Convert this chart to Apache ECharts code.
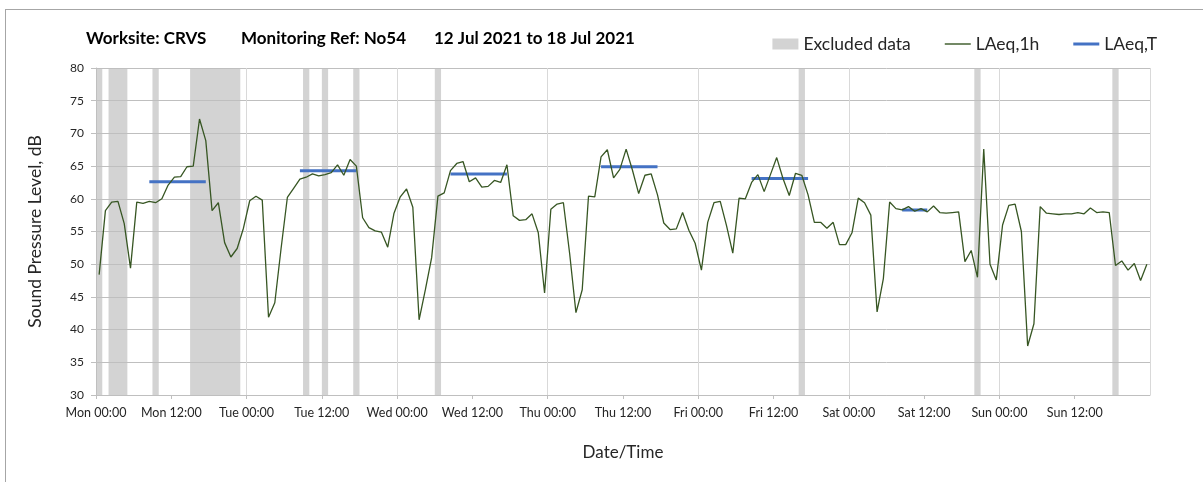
<!DOCTYPE html>
<html>
<head>
<meta charset="utf-8">
<script src="https://cdn.jsdelivr.net/npm/echarts@6/dist/echarts.min.js"></script>
<style>
  html, body { margin: 0; padding: 0; background: #fff; }
  .frame { position: absolute; left: 5px; top: 9px; width: 1400px; height: 700px; border: 1px solid #a6a6a6; }
  #chart { position: absolute; left: 0; top: 0; width: 1203px; height: 482px; }
</style>
</head>
<body>
<div class="frame"></div>
<div id="chart"></div>
<script>
// hourly LAeq,1h, Mon 00:00 -> Sun 23:00 (168 hours)
var laeq1h = [
  48.4, 58.2, 59.5, 59.6, 56.2, 49.4, 59.5, 59.3, 59.6, 59.4, 60.0, 62.1,
  63.3, 63.4, 64.9, 65.0, 72.2, 68.9, 58.2, 59.4, 53.3, 51.1, 52.4, 55.5,
  59.7, 60.4, 59.8, 41.9, 44.1, 52.4, 60.2, 61.6, 63.0, 63.3, 63.8, 63.5,
  63.7, 64.0, 65.2, 63.6, 66.0, 65.0, 57.1, 55.6, 55.1, 54.9, 52.6, 57.8,
  60.3, 61.5, 58.7, 41.5, 46.1, 51.0, 60.4, 60.9, 64.3, 65.4, 65.7, 62.6,
  63.2, 61.8, 61.9, 62.8, 62.5, 65.2, 57.4, 56.7, 56.8, 57.7, 54.8, 45.6,
  58.4, 59.2, 59.4, 51.6, 42.6, 46.1, 60.4, 60.3, 66.4, 67.5, 63.2, 64.5,
  67.6, 64.4, 60.8, 63.6, 63.8, 60.6, 56.3, 55.3, 55.4, 57.9, 55.2, 53.2,
  49.1, 56.4, 59.4, 59.6, 55.9, 51.7, 60.1, 60.0, 62.5, 63.7, 61.1, 63.7,
  66.3, 63.1, 60.5, 63.9, 63.6, 60.6, 56.4, 56.4, 55.5, 56.4, 53.0, 53.0,
  54.8, 60.1, 59.4, 57.5, 42.7, 47.8, 59.5, 58.5, 58.3, 58.8, 58.1, 58.5,
  58.0, 58.9, 57.9, 57.8, 57.9, 58.0, 50.4, 52.1, 48.0, 67.6, 50.0, 47.6,
  56.0, 59.0, 59.2, 55.0, 37.5, 40.9, 58.8, 57.8, 57.7, 57.6, 57.7, 57.7,
  57.9, 57.7, 58.6, 57.9, 58.0, 57.9, 49.8, 50.5, 49.1, 50.1, 47.5, 50.0
];

// LAeq,T periods (first hour, last hour, level)
var periodStart = [8, 32, 56, 80, 104, 128];
var periodEnd = [17, 41, 65, 89, 113, 132];
var periodLevel = [62.6, 64.3, 63.8, 64.9, 63.1, 58.3];

// hours flagged as excluded
var excludedHours = [0, 2, 3, 4, 9, 15, 16, 17, 18, 19, 20, 21, 22, 33, 36, 41, 54, 112, 140, 162];

var tickLabels = ['Mon 00:00', 'Mon 12:00', 'Tue 00:00', 'Tue 12:00', 'Wed 00:00', 'Wed 12:00',
  'Thu 00:00', 'Thu 12:00', 'Fri 00:00', 'Fri 12:00', 'Sat 00:00', 'Sat 12:00',
  'Sun 00:00', 'Sun 12:00', ''];

var yMin = 30, yMax = 80;
var font = 'Lato, "Open Sans", sans-serif';
var txt = '#262626';

var lineData = laeq1h.map(function (v, h) { return [h + 0.5, v]; });
var periodData = laeq1h.map(function (v, h) {
  for (var i = 0; i < periodStart.length; i++) {
    if (h >= periodStart[i] && h <= periodEnd[i]) return [h + 0.5, periodLevel[i]];
  }
  return [h + 0.5, null];
});

// join neighbouring excluded hours so the shading has no seams
var excludedRuns = [];
excludedHours.forEach(function (h) {
  var last = excludedRuns[excludedRuns.length - 1];
  if (last && last[1] === h) last[1] = h + 1;
  else excludedRuns.push([h, h + 1]);
});

var titleStyle = { fontSize: 17, fontWeight: 'bold', color: '#000', fontFamily: font };

var chart = echarts.init(document.getElementById('chart'));
chart.setOption({
  animation: false,
  textStyle: { fontFamily: font },
  title: [
    { text: 'Worksite: CRVS', left: 81, top: 25, textStyle: titleStyle },
    { text: 'Monitoring Ref: No54', left: 236, top: 25, textStyle: titleStyle },
    { text: '12 Jul 2021 to 18 Jul 2021', left: 429, top: 25, textStyle: titleStyle }
  ],
  legend: {
    right: 41,
    top: 30,
    itemWidth: 26,
    itemHeight: 11,
    itemGap: 34,
    textStyle: { fontSize: 17.5, color: txt, fontFamily: font },
    data: [
      { name: 'Excluded data', icon: 'rect' },
      { name: 'LAeq,1h', icon: 'path://M0,0H26V1.4H0Z' },
      { name: 'LAeq,T', icon: 'path://M0,0H26V3H0Z' }
    ]
  },
  grid: { left: 96, right: 53, top: 68, bottom: 87 },
  xAxis: [
    {
      type: 'value',
      min: 0,
      max: 168,
      interval: 12,
      name: 'Date/Time',
      nameLocation: 'middle',
      nameGap: 49,
      nameTextStyle: { fontSize: 17, color: txt },
      axisLine: { lineStyle: { color: '#bfbfbf' } },
      axisTick: { length: 4, lineStyle: { color: '#bfbfbf' } },
      axisLabel: {
        fontSize: 12.5,
        color: txt,
        margin: 11,
        showMaxLabel: false,
        formatter: function (v) { return tickLabels[Math.round(v / 12)]; }
      },
      splitLine: { show: false }
    },
    {
      type: 'value',
      min: 0,
      max: 168,
      interval: 24,
      position: 'bottom',
      axisLine: { show: false },
      axisTick: { show: false },
      axisLabel: { show: false },
      splitLine: { show: true, lineStyle: { color: '#d9d9d9', width: 1 } }
    }
  ],
  yAxis: {
    type: 'value',
    min: yMin,
    max: yMax,
    interval: 5,
    name: 'Sound Pressure Level, dB',
    nameLocation: 'middle',
    nameGap: 52,
    nameTextStyle: { fontSize: 17.5, color: txt },
    axisLine: { show: true, lineStyle: { color: '#bfbfbf' } },
    axisTick: { show: true, length: 5, lineStyle: { color: '#bfbfbf' } },
    axisLabel: { fontSize: 12, color: txt, margin: 12 },
    splitLine: { lineStyle: { color: '#bfbfbf', width: 1 } }
  },
  series: [
    {
      name: 'Excluded data',
      type: 'custom',
      z: -1,
      itemStyle: { color: '#d3d3d3' },
      encode: { x: [0, 1] },
      data: excludedRuns,
      renderItem: function (params, api) {
        var p0 = api.coord([api.value(0), yMax]);
        var p1 = api.coord([api.value(1), yMin]);
        return {
          type: 'rect',
          shape: { x: p0[0], y: p0[1], width: p1[0] - p0[0], height: p1[1] - p0[1] },
          style: { fill: '#d3d3d3' }
        };
      }
    },
    {
      name: 'LAeq,T',
      type: 'line',
      z: 3,
      symbol: 'none',
      connectNulls: false,
      lineStyle: { color: '#4472c4', width: 3 },
      itemStyle: { color: '#4472c4' },
      data: periodData
    },
    {
      name: 'LAeq,1h',
      type: 'line',
      z: 4,
      symbol: 'none',
      lineStyle: { color: '#375623', width: 1.3 },
      itemStyle: { color: '#375623' },
      data: lineData
    }
  ]
});
</script>
</body>
</html>
